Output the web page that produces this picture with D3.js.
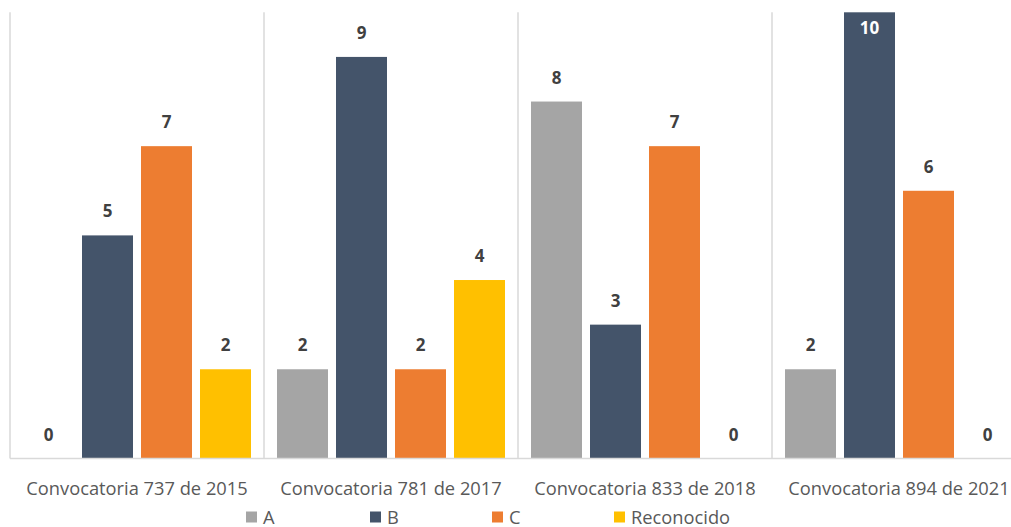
<!DOCTYPE html>
<html>
<head>
<meta charset="utf-8">
<script src="https://cdn.jsdelivr.net/npm/d3@7"></script>
<style>
  html, body { margin: 0; padding: 0; background: #fff; }
  svg { display: block; }
</style>
</head>
<body>
<svg id="chart" width="1011" height="527"></svg>
<script>
// Categories, series and values
const categories = ["Convocatoria 737 de 2015", "Convocatoria 781 de 2017", "Convocatoria 833 de 2018", "Convocatoria 894 de 2021"];
const seriesNames = ["A", "B", "C", "Reconocido"];
const valuesA = [0, 2, 8, 2];
const valuesB = [5, 9, 3, 10];
const valuesC = [7, 2, 7, 6];
const valuesReconocido = [2, 4, 0, 0];
const seriesColors = ["#a5a5a5", "#44546a", "#ed7d31", "#ffc000"];

const seriesValues = [valuesA, valuesB, valuesC, valuesReconocido];

const svg = d3.select("#chart");
const W = 1011, H = 527;

const plotLeft = 10, plotRight = 1026, plotTop = 12.3, plotBottom = 458.5;

const x0 = d3.scaleBand().domain(categories).range([plotLeft, plotRight]).padding(0);
const x1 = d3.scaleBand().domain(seriesNames).range([0, x0.bandwidth()])
  .paddingInner(0.1356).paddingOuter(0.2203);
const y = d3.scaleLinear().domain([0, 10]).range([plotBottom, plotTop]);

const clip = svg.append("defs").append("clipPath").attr("id", "clipArea");
clip.append("rect").attr("x", 0).attr("y", 0).attr("width", W).attr("height", H);

const g = svg.append("g").attr("clip-path", "url(#clipArea)");

// Category separators
const bounds = categories.map(c => x0(c)).concat([x0(categories[categories.length - 1]) + x0.bandwidth()]);
g.selectAll("line.sep").data(bounds).join("line")
  .attr("class", "sep")
  .attr("x1", d => d).attr("x2", d => d)
  .attr("y1", plotTop).attr("y2", plotBottom)
  .attr("stroke", "#d9d9d9").attr("stroke-width", 1.5);

// Bars
const barData = [];
categories.forEach((c, ci) => {
  seriesNames.forEach((s, si) => {
    barData.push({ cat: c, series: s, value: seriesValues[si][ci], color: seriesColors[si] });
  });
});

g.selectAll("rect.bar").data(barData).join("rect")
  .attr("class", "bar")
  .attr("x", d => x0(d.cat) + x1(d.series))
  .attr("width", x1.bandwidth())
  .attr("y", d => y(d.value))
  .attr("height", d => plotBottom - y(d.value))
  .attr("fill", d => d.color);

// Baseline
g.append("line")
  .attr("x1", plotLeft).attr("x2", plotRight)
  .attr("y1", plotBottom).attr("y2", plotBottom)
  .attr("stroke", "#d9d9d9").attr("stroke-width", 1.5);

// Value labels (the tallest bar carries its label inside, in white)
const maxVal = 10;
g.selectAll("text.val").data(barData).join("text")
  .attr("class", "val")
  .attr("x", d => x0(d.cat) + x1(d.series) + x1.bandwidth() / 2)
  .attr("y", d => d.value >= maxVal ? y(d.value) + 22 : y(d.value) - 18)
  .attr("text-anchor", "middle")
  .attr("font-family", "'Open Sans', 'Noto Sans', sans-serif")
  .attr("font-weight", "bold")
  .attr("font-size", 17)
  .attr("fill", d => d.value >= maxVal ? "#ffffff" : "#404040")
  .text(d => d.value);

// Category labels
g.selectAll("text.cat").data(categories).join("text")
  .attr("class", "cat")
  .attr("x", d => x0(d) + x0.bandwidth() / 2)
  .attr("y", 494.5)
  .attr("text-anchor", "middle")
  .attr("font-family", "'Open Sans', 'Noto Sans', sans-serif")
  .attr("font-size", 18.3)
  .attr("fill", "#595959")
  .text(d => d);

// Legend
const legendX = [246, 370, 492, 614];
const legend = svg.append("g").selectAll("g").data(seriesNames).join("g")
  .attr("transform", (d, i) => `translate(${legendX[i]}, 511.5)`);
legend.append("rect").attr("width", 11).attr("height", 11)
  .attr("fill", (d, i) => seriesColors[i]);
legend.append("text").attr("x", 17).attr("y", 12)
  .attr("font-family", "'Open Sans', 'Noto Sans', sans-serif")
  .attr("font-size", 18.3)
  .attr("fill", "#595959")
  .text(d => d);
</script>
</body>
</html>
